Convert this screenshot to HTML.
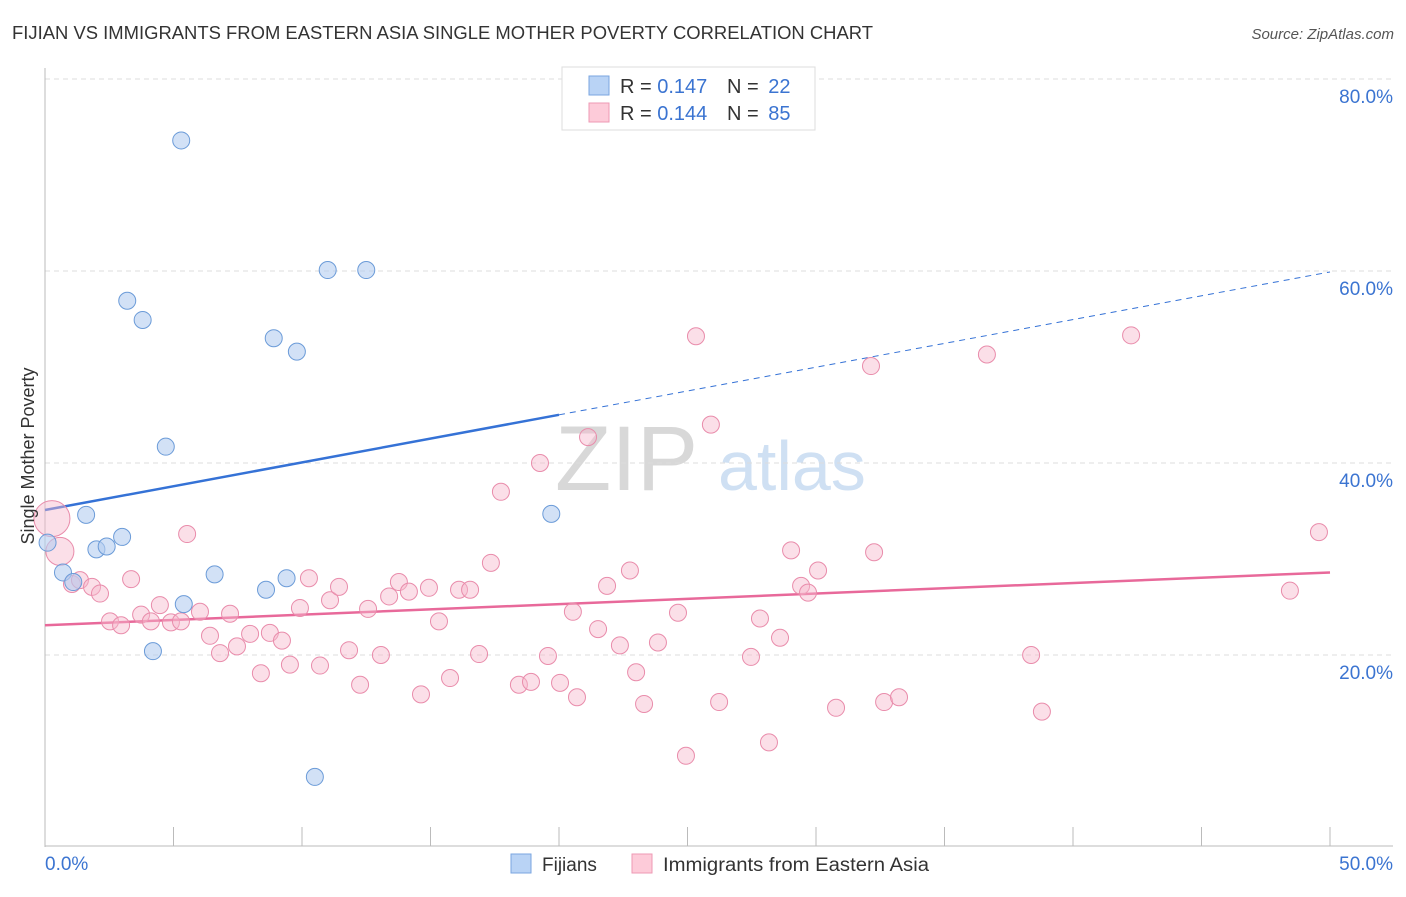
<!DOCTYPE html>
<html><head><meta charset="utf-8"><style>
body{margin:0;background:#fff;font-family:"Liberation Sans",sans-serif}
svg text{font-family:"Liberation Sans",sans-serif}
</style></head><body>
<svg id="chart" width="1406" height="892" viewBox="0 0 1406 892">
<text x="12" y="39" font-size="18" fill="#333" textLength="861" lengthAdjust="spacingAndGlyphs">FIJIAN VS IMMIGRANTS FROM EASTERN ASIA SINGLE MOTHER POVERTY CORRELATION CHART</text>
<text x="1394" y="39" font-size="15" fill="#555" text-anchor="end" font-style="italic">Source: ZipAtlas.com</text>
<g>
<text x="555" y="490" font-size="92" fill="#d8d8d8" font-family="Liberation Serif,serif">ZIP</text>
<text x="718" y="490" font-size="70" fill="#cfe0f3">atlas</text>
</g>
<g id="grid"></g>
<g id="axes"></g>
<g id="lines"></g>
<g id="points"></g>
<text transform="translate(34,456) rotate(-90)" font-size="18" fill="#333" text-anchor="middle">Single Mother Poverty</text>
<g>
<rect x="562" y="67" width="253" height="63" fill="#fff" stroke="#ddd"/>
<rect x="589" y="76" width="20" height="19" fill="#b9d3f5" stroke="#7aa6e0"/>
<rect x="589" y="103" width="20" height="19" fill="#fdcbd9" stroke="#ee9ab4"/>
<text x="620" y="93" font-size="20" fill="#333">R = <tspan fill="#3b74d1">0.147</tspan></text>
<text x="727" y="93" font-size="20" fill="#333">N = <tspan fill="#3b74d1" dx="4">22</tspan></text>
<text x="620" y="120" font-size="20" fill="#333">R = <tspan fill="#3b74d1">0.144</tspan></text>
<text x="727" y="120" font-size="20" fill="#333">N = <tspan fill="#3b74d1" dx="4">85</tspan></text>
</g>
<g>
<rect x="511" y="854" width="20" height="19" fill="#b9d3f5" stroke="#7aa6e0"/>
<text x="542" y="871" font-size="19" fill="#333">Fijians</text>
<rect x="632" y="854" width="20" height="19" fill="#fdcbd9" stroke="#ee9ab4"/>
<text x="663" y="871" font-size="19" fill="#333" textLength="266" lengthAdjust="spacingAndGlyphs">Immigrants from Eastern Asia</text>
</g>
</svg>
<script>
const yTicks=[20,40,60,80];
const yTickLabels=["20.0%","40.0%","60.0%","80.0%"];
const xTicks=[0,5,10,15,20,25,30,35,40,45,50];
const xEndLabels=["0.0%","50.0%"];
const blueX=[5.3,11.0,12.5,3.2,3.8,8.9,9.8,4.7,19.7,1.6,3.0,2.0,2.4,0.1,0.7,1.1,6.6,9.4,8.6,5.4,4.2,10.5];
const blueY=[73.6,60.1,60.1,56.9,54.9,53.0,51.6,41.7,34.7,34.6,32.3,31.0,31.3,31.7,28.6,27.6,28.4,28.0,26.8,25.3,20.4,7.3];
const pinkX=[0.27,0.58,1.05,1.36,1.83,2.14,2.53,2.96,3.35,3.74,4.12,4.47,4.90,5.29,5.53,6.03,6.42,6.81,7.20,7.47,7.98,8.40,8.75,9.22,9.53,9.92,10.27,10.70,11.09,11.44,11.83,12.26,12.57,13.07,13.39,13.77,14.16,14.63,14.94,15.33,15.76,16.11,16.54,16.89,17.35,17.74,18.44,18.91,19.26,19.57,20.04,20.54,20.70,21.13,21.52,21.87,22.37,22.76,23.00,23.31,23.85,24.63,24.94,25.33,25.91,26.23,27.82,27.47,28.17,28.60,29.03,29.42,29.69,30.08,30.78,32.14,32.26,32.65,33.23,36.65,38.37,38.79,42.26,48.44,49.57];
const pinkY=[34.2,30.8,27.4,27.8,27.1,26.4,23.5,23.1,27.9,24.2,23.5,25.2,23.4,23.5,32.6,24.5,22.0,20.2,24.3,20.9,22.2,18.1,22.3,21.5,19.0,24.9,28.0,18.9,25.7,27.1,20.5,16.9,24.8,20.0,26.1,27.6,26.6,15.9,27.0,23.5,17.6,26.8,26.8,20.1,29.6,37.0,16.9,17.2,40.0,19.9,17.1,24.5,15.6,42.7,22.7,27.2,21.0,28.8,18.2,14.9,21.3,24.4,9.5,53.2,44.0,15.1,23.8,19.8,10.9,21.8,30.9,27.2,26.5,28.8,14.5,50.1,30.7,15.1,15.6,51.3,20.0,14.1,53.3,26.7,32.8];
const blueTrend=[35.1,59.9];
const blueSolidEnd=20;
const pinkTrend=[23.1,28.6];

const NS="http://www.w3.org/2000/svg";
const X0=45,X1=1330,Y0=847,PXY=9.6;
function sx(v){return X0+v*(X1-X0)/50;}
function sy(v){return Y0-v*PXY;}
function mk(tag,attrs,parent){const e=document.createElementNS(NS,tag);for(const k in attrs)e.setAttribute(k,attrs[k]);document.getElementById(parent).appendChild(e);return e;}

yTicks.forEach((t,i)=>{
 const g=mk('line',{x1:45,x2:1393,y1:sy(t),y2:sy(t),stroke:'#ddd','stroke-dasharray':'5,4'},'grid');
 
 
 const l=mk('text',{x:1393,y:sy(t)+24,'font-size':19,fill:'#3b74d1','text-anchor':'end'},'grid');
 l.textContent=yTickLabels[i];
 
 
});
const ya=mk('line',{x1:45,x2:45,y1:68,y2:847,stroke:'#bbb'},'axes');


const xa=mk('line',{x1:45,x2:1393,y1:846,y2:846,stroke:'#bbb'},'axes');


xTicks.forEach(t=>{
 const k=mk('line',{x1:sx(t),x2:sx(t),y1:827,y2:846,stroke:'#bbb'},'axes');
 
 
});
const xl0=mk('text',{x:45,y:870,'font-size':19,fill:'#3b74d1'},'axes');
xl0.textContent=xEndLabels[0];


const xl1=mk('text',{x:1393,y:870,'font-size':19,fill:'#3b74d1','text-anchor':'end'},'axes');
xl1.textContent=xEndLabels[1];



function bAt(x){return blueTrend[0]+(blueTrend[1]-blueTrend[0])*x/50;}
const bs=mk('line',{x1:sx(0),y1:sy(bAt(0)),x2:sx(blueSolidEnd),y2:sy(bAt(blueSolidEnd)),stroke:'#3572d6','stroke-width':2.5},'lines');


const bd=mk('line',{x1:sx(blueSolidEnd),y1:sy(bAt(blueSolidEnd)),x2:sx(50),y2:sy(bAt(50)),stroke:'#3572d6','stroke-width':1,'stroke-dasharray':'6,5'},'lines');


const pl=mk('line',{x1:sx(0),y1:sy(pinkTrend[0]),x2:sx(50),y2:sy(pinkTrend[1]),stroke:'#e8699a','stroke-width':2.5},'lines');



pinkX.forEach((x,i)=>{
 const r=i===0?18:(i===1?14:8.5);
 const c=mk('circle',{cx:sx(x),cy:sy(pinkY[i]),r:r,fill:'#f7b9cc','fill-opacity':0.45,stroke:'#e98cab','stroke-width':1},'points');
 
 
});
blueX.forEach((x,i)=>{
 const c=mk('circle',{cx:sx(x),cy:sy(blueY[i]),r:8.5,fill:'#b4cdf0','fill-opacity':0.6,stroke:'#6b9bd8','stroke-width':1},'points');
 
 
});
</script>
</body></html>
